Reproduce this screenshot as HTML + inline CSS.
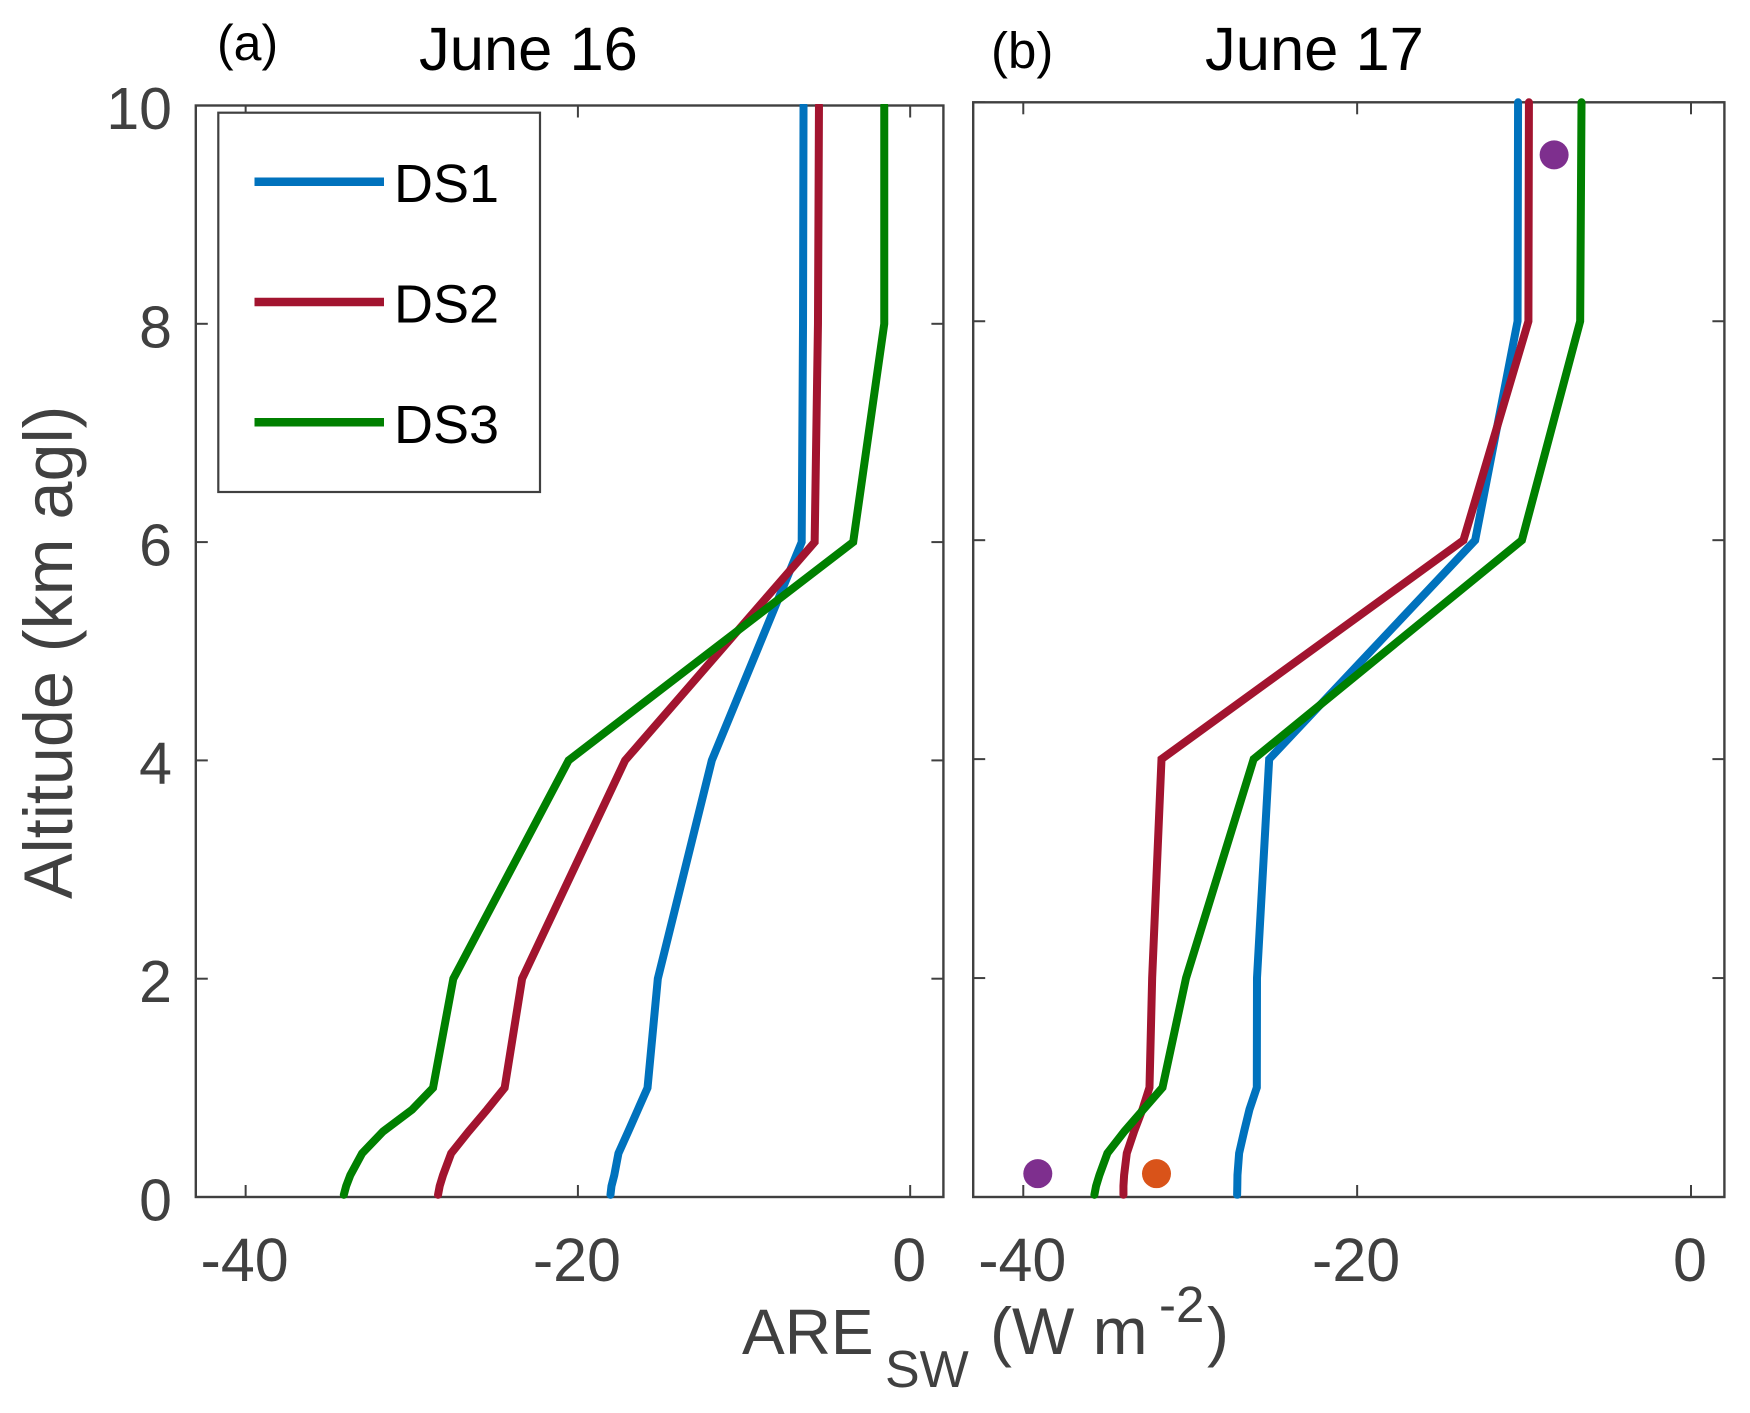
<!DOCTYPE html>
<html lang="en">
<head>
<meta charset="utf-8">
<title>ARE SW altitude profiles, June 16 and June 17</title>
<style>
html, body { margin: 0; padding: 0; background: #ffffff; }
svg { display: block; font-family: "Liberation Sans", Arial, sans-serif; }
</style>
</head>
<body>
<svg id="chart" xmlns="http://www.w3.org/2000/svg" width="1750" height="1413" viewBox="0 0 1750 1413">
  <defs>
    <clipPath id="clip-a"><rect x="190" y="104" width="760" height="1100"></rect></clipPath>
  </defs>
  <rect x="0" y="0" width="1750" height="1413" fill="#ffffff"></rect>

  <g id="panel-a"></g>
  <g id="panel-b"></g>

  <text x="217" y="60" font-size="50" fill="#000">(a)</text>
  <text x="419" y="70" font-size="61.5" fill="#000">June 16</text>
  <text x="991" y="68" font-size="51" fill="#000">(b)</text>
  <text x="1205" y="70" font-size="61.5" fill="#000">June 17</text>

  <text transform="translate(72 899) rotate(-90)" font-size="68.3" fill="#404040">Altitude (km agl)</text>
  <text fill="#404040" font-size="66"><tspan x="742" y="1354" font-size="64">ARE</tspan><tspan x="885" y="1387" font-size="52">SW</tspan><tspan x="990" y="1354">(W m</tspan><tspan x="1159" y="1322" font-size="51">-2</tspan><tspan x="1207" y="1354">)</tspan></text>

  <g>
    <rect x="218.3" y="112.7" width="321.7" height="379.3" fill="#ffffff" stroke="#404040" stroke-width="2.2"></rect>
    <line x1="254.5" y1="181.7" x2="384" y2="181.7" stroke="#0072BD" stroke-width="8.5"></line>
    <text x="394" y="202" font-size="54" fill="#000">DS1</text>
    <line x1="254.5" y1="302" x2="384" y2="302" stroke="#A2142F" stroke-width="8.5"></line>
    <text x="394" y="322.5" font-size="54" fill="#000">DS2</text>
    <line x1="254.5" y1="422.3" x2="384" y2="422.3" stroke="#008000" stroke-width="8.5"></line>
    <text x="394" y="443" font-size="54" fill="#000">DS3</text>
  </g>

<script>
// Chart data
var altitudes = [0.02, 0.1, 0.2, 0.4, 0.6, 0.8, 1, 2, 4, 6, 8, 10];
var seriesNames = ['ds1', 'ds2', 'ds3'];

var june16DS1 = [-18.04, -17.98, -17.81, -17.56, -16.97, -16.39, -15.81, -15.19, -11.94, -6.53, -6.45, -6.42];
var june16DS2 = [-28.42, -28.32, -28.12, -27.63, -26.58, -25.47, -24.41, -23.36, -17.16, -5.75, -5.55, -5.49];
var june16DS3 = [-34.09, -33.95, -33.70, -32.99, -31.73, -29.98, -28.72, -27.50, -20.56, -3.43, -1.56, -1.56];

var june17DS1 = [-27.19, -27.18, -27.17, -27.07, -26.77, -26.45, -26.01, -26.00, -25.27, -12.93, -10.39, -10.36];
var june17DS2 = [-34.00, -34.00, -33.96, -33.80, -33.36, -32.86, -32.44, -32.28, -31.72, -13.63, -9.74, -9.71];
var june17DS3 = [-35.74, -35.64, -35.44, -34.96, -33.94, -32.80, -31.66, -30.25, -26.20, -10.13, -6.64, -6.56];

var june17MarkerValues = [-39.13, -32.02, -8.2];
var june17MarkerAltitudes = [0.213, 0.213, 9.52];
var june17MarkerNames = ['marker-purple-low', 'marker-orange-low', 'marker-purple-high'];

var xTickValues = [-40, -20, 0];
var yTickValues = [0, 2, 4, 6, 8, 10];
var xDomain = [-43, 2];
var yDomain = [0, 10];

// Styling and layout
var SVG_NS = 'http://www.w3.org/2000/svg';
var seriesColors = ['#0072BD', '#A2142F', '#008000'];
var markerColors = ['#7E2F8E', '#D95319', '#7E2F8E'];
var AXIS_COLOR = '#404040';

function makeScale(domain, start, end) {
  return function (v) {
    return start + (v - domain[0]) / (domain[1] - domain[0]) * (end - start);
  };
}

function drawPanel(groupId, box, seriesList, showYLabels, clipId) {
  var group = document.getElementById(groupId);
  var xScale = makeScale(xDomain, box.left, box.right);
  var yScale = makeScale(yDomain, box.bottom, box.top);

  // series
  var lines = document.createElementNS(SVG_NS, 'g');
  
  
  if (clipId) { lines.setAttribute('clip-path', 'url(#' + clipId + ')'); }
  group.appendChild(lines);
  seriesList.forEach(function (values, s) {
    var pts = values.map(function (v, i) {
      return xScale(v).toFixed(2) + ',' + yScale(altitudes[i]).toFixed(2);
    }).join(' ');
    var line = document.createElementNS(SVG_NS, 'polyline');
    line.setAttribute('points', pts);
    line.setAttribute('fill', 'none');
    line.setAttribute('stroke', seriesColors[s]);
    line.setAttribute('stroke-width', '8');
    line.setAttribute('stroke-linejoin', 'miter');
    line.setAttribute('stroke-linecap', 'round');
    
    
    lines.appendChild(line);
  });

  // axes box
  var frame = document.createElementNS(SVG_NS, 'rect');
  frame.setAttribute('x', box.left);
  frame.setAttribute('y', box.top);
  frame.setAttribute('width', box.right - box.left);
  frame.setAttribute('height', box.bottom - box.top);
  frame.setAttribute('fill', 'none');
  frame.setAttribute('stroke', AXIS_COLOR);
  frame.setAttribute('stroke-width', '2.4');
  
  
  group.insertBefore(frame, lines);

  // x ticks
  xTickValues.forEach(function (v) {
    var x = xScale(v);
    [[box.bottom, box.bottom - 12], [box.top, box.top + 12]].forEach(function (ends) {
      var tick = document.createElementNS(SVG_NS, 'line');
      tick.setAttribute('x1', x);
      tick.setAttribute('x2', x);
      tick.setAttribute('y1', ends[0]);
      tick.setAttribute('y2', ends[1]);
      tick.setAttribute('stroke', AXIS_COLOR);
      tick.setAttribute('stroke-width', '2');
      
      
      group.insertBefore(tick, lines);
    });
    var label = document.createElementNS(SVG_NS, 'text');
    label.setAttribute('x', x - 1);
    label.setAttribute('y', 1281);
    label.setAttribute('text-anchor', 'middle');
    label.setAttribute('font-size', '61');
    label.setAttribute('fill', AXIS_COLOR);
    
    
    label.textContent = String(v);
    group.appendChild(label);
  });

  // y ticks
  yTickValues.forEach(function (v) {
    var y = yScale(v);
    [[box.left, box.left + 12], [box.right, box.right - 12]].forEach(function (ends) {
      var tick = document.createElementNS(SVG_NS, 'line');
      tick.setAttribute('x1', ends[0]);
      tick.setAttribute('x2', ends[1]);
      tick.setAttribute('y1', y);
      tick.setAttribute('y2', y);
      tick.setAttribute('stroke', AXIS_COLOR);
      tick.setAttribute('stroke-width', '2');
      
      
      group.insertBefore(tick, lines);
    });
    if (showYLabels) {
      var label = document.createElementNS(SVG_NS, 'text');
      label.setAttribute('x', 172);
      label.setAttribute('y', y + 23.5);
      label.setAttribute('text-anchor', 'end');
      label.setAttribute('font-size', '59');
      label.setAttribute('fill', AXIS_COLOR);
      
      
      label.textContent = String(v);
      group.appendChild(label);
    }
  });

  return { x: xScale, y: yScale, group: group };
}

var panelA = drawPanel('panel-a', { left: 195.8, right: 943.4, top: 105.5, bottom: 1197 },
  [june16DS1, june16DS2, june16DS3], true, 'clip-a');
var panelB = drawPanel('panel-b', { left: 973.2, right: 1724.4, top: 102.3, bottom: 1197 },
  [june17DS1, june17DS2, june17DS3], false, null);

june17MarkerValues.forEach(function (v, i) {
  var dot = document.createElementNS(SVG_NS, 'circle');
  dot.setAttribute('cx', panelB.x(v));
  dot.setAttribute('cy', panelB.y(june17MarkerAltitudes[i]));
  dot.setAttribute('r', '14.5');
  dot.setAttribute('fill', markerColors[i]);
  
  
  panelB.group.appendChild(dot);
});
</script>
</svg>
</body>
</html>
